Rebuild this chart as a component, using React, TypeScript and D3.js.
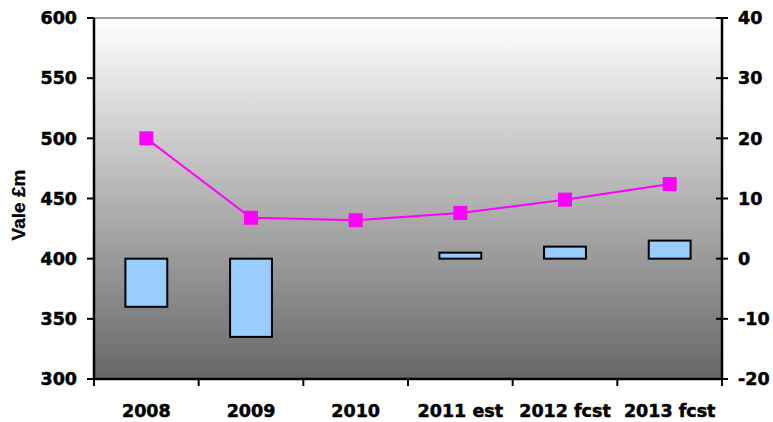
import React from "react";
import * as d3 from "d3";

const categories = ["2008", "2009", "2010", "2011 est", "2012 fcst", "2013 fcst"];
const barValues = [-8, -13, 0, 1, 2, 3];
const lineValues = [500, 434, 432, 438, 449, 462];
const leftTicks = [300, 350, 400, 450, 500, 550, 600];
const rightTicks = [-20, -10, 0, 10, 20, 30, 40];

const W = 773;
const H = 422;
const M = { left: 94, right: 722, top: 18, bottom: 379 };
const FONT = "'DejaVu Sans', Verdana, sans-serif";

const labelProps = {
  fontFamily: FONT,
  fontWeight: "bold" as const,
  fontSize: 17.5,
  stroke: "#000",
  strokeWidth: 0.5,
};

export default function App() {
  const x = d3.scaleBand<string>().domain(categories).range([M.left, M.right]).paddingInner(0).paddingOuter(0);
  const yL = d3.scaleLinear().domain([300, 600]).range([M.bottom, M.top]);
  const yR = d3.scaleLinear().domain([-20, 40]).range([M.bottom, M.top]);
  const bw = x.bandwidth() * 0.4;
  const line = d3
    .line<number>()
    .x((_, i) => (x(categories[i]) as number) + x.bandwidth() / 2)
    .y((d) => yL(d));
  const boundaries = categories.map((c) => x(c) as number).concat([M.right]);

  return (
    <svg width={W} height={H} style={{ position: "absolute", left: 0, top: 0 }}>
      <defs>
        <linearGradient id="bg" x1="0" y1="0" x2="0" y2="1">
          <stop offset="0%" stopColor="#ffffff" />
          <stop offset="100%" stopColor="#676767" />
        </linearGradient>
      </defs>
      <rect x={0} y={0} width={W} height={H} fill="#ffffff" />
      <rect x={M.left} y={M.top} width={M.right - M.left} height={M.bottom - M.top} fill="url(#bg)" />
      <line x1={M.left} x2={M.right} y1={M.top} y2={M.top} stroke="#808080" strokeWidth={1.5} />

      {categories.map((c, i) => {
        const v = barValues[i];
        if (v === 0) return null;
        const y0 = yR(0);
        const y1 = yR(v);
        const cx = (x(c) as number) + x.bandwidth() / 2;
        return (
          <rect
            key={c}
            x={cx - bw / 2}
            y={Math.min(y0, y1)}
            width={bw}
            height={Math.abs(y1 - y0)}
            fill="#99ccff"
            stroke="#000"
            strokeWidth={2}
          />
        );
      })}

      <path d={line(lineValues) || ""} fill="none" stroke="#ff00ff" strokeWidth={2} />
      {lineValues.map((v, i) => {
        const cx = (x(categories[i]) as number) + x.bandwidth() / 2;
        return <rect key={i} x={cx - 7} y={yL(v) - 7} width={14} height={14} fill="#ff00ff" />;
      })}

      {/* left axis */}
      <line x1={M.left} x2={M.left} y1={M.top} y2={M.bottom} stroke="#000" strokeWidth={2.5} />
      {leftTicks.map((t) => (
        <g key={t}>
          <line x1={M.left - 7} x2={M.left} y1={yL(t)} y2={yL(t)} stroke="#000" strokeWidth={2} />
          <text x={77} y={yL(t)} dy="0.36em" textAnchor="end" {...labelProps}>
            {t}
          </text>
        </g>
      ))}

      {/* right axis */}
      <line x1={M.right} x2={M.right} y1={M.top} y2={M.bottom} stroke="#000" strokeWidth={2.5} />
      {rightTicks.map((t) => (
        <g key={t}>
          <line x1={M.right - 6} x2={M.right + 6} y1={yR(t)} y2={yR(t)} stroke="#000" strokeWidth={2} />
          <text x={738} y={yR(t)} dy="0.36em" textAnchor="start" {...labelProps}>
            {t}
          </text>
        </g>
      ))}

      {/* bottom axis */}
      <line x1={M.left} x2={M.right} y1={M.bottom} y2={M.bottom} stroke="#000" strokeWidth={2.5} />
      {boundaries.map((b, i) => (
        <line key={i} x1={b} x2={b} y1={M.bottom} y2={M.bottom + 7} stroke="#000" strokeWidth={2} />
      ))}
      {categories.map((c) => (
        <text key={c} x={(x(c) as number) + x.bandwidth() / 2} y={417} textAnchor="middle" {...labelProps}>
          {c}
        </text>
      ))}

      <text
        transform={`translate(25, 205) rotate(-90)`}
        textAnchor="middle"
        fontFamily="'Liberation Sans', Arial, sans-serif"
        fontWeight="bold"
        fontSize={19}
        stroke="#000"
        strokeWidth={0.3}
      >
        Vale £m
      </text>
    </svg>
  );
}
